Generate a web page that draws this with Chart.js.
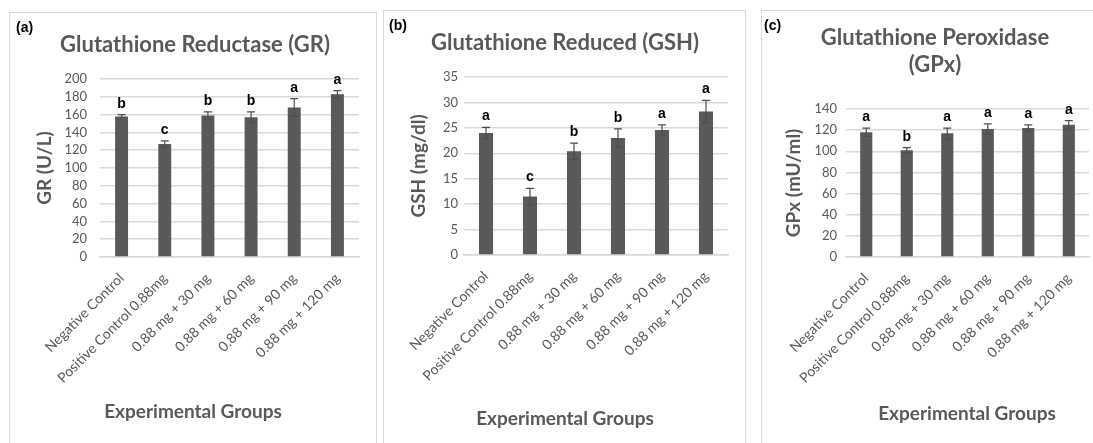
<!DOCTYPE html>
<html>
<head>
<meta charset="utf-8">
<script src="https://cdn.jsdelivr.net/npm/chart.js@4"></script>
<style>
  body { margin: 0; background: #fff; width: 1093px; height: 443px; overflow: hidden; position: relative; }
  .panel { position: absolute; border: 1px solid #d9d9d9; background: #fff; }
  .panel canvas { position: absolute; left: 0; top: 0; }
  .tag { position: absolute; font: bold 14px "Liberation Sans", Arial, sans-serif; color: #000; }
  .title { position: absolute; transform: translate(-50%, -50%); font: bold 22px Lato, sans-serif; color: #595959; text-align: center; white-space: nowrap; line-height: 27px; }
  .xtitle { position: absolute; transform: translate(-50%, -50%); font: bold 19px Lato, sans-serif; color: #595959; white-space: nowrap; }
</style>
</head>
<body>
<div class="panel" id="pa" style="left:9px;top:12px;width:366px;height:440px;"><canvas id="chartA"></canvas></div>
<div class="panel" id="pb" style="left:383px;top:10px;width:361px;height:442px;"><canvas id="chartB"></canvas></div>
<div class="panel" id="pc" style="left:761px;top:10px;width:340px;height:442px;"><canvas id="chartC"></canvas></div>

<div class="tag" style="left:16px;top:19px;">(a)</div>
<div class="tag" style="left:389px;top:17px;">(b)</div>
<div class="tag" style="left:764px;top:17px;">(c)</div>

<div class="title" style="left:195px;top:43px;">Glutathione Reductase (GR)</div>
<div class="title" style="left:565px;top:41px;">Glutathione Reduced (GSH)</div>
<div class="title" style="left:935px;top:50px;">Glutathione Peroxidase<br>(GPx)</div>

<div class="xtitle" style="left:193px;top:410px;">Experimental Groups</div>
<div class="xtitle" style="left:565px;top:417px;">Experimental Groups</div>
<div class="xtitle" style="left:967px;top:412px;">Experimental Groups</div>

<script>
const groups = ['Negative Control', 'Positive Control 0.88mg', '0.88 mg + 30 mg', '0.88 mg + 60 mg', '0.88 mg + 90 mg', '0.88 mg + 120 mg'];

const grValues = [158, 127, 159, 157, 168, 183];
const grErrors = [2, 3.5, 4, 6, 10, 4];
const grLetters = ['b', 'c', 'b', 'b', 'a', 'a'];
const grAxis = [0, 200, 20];

const gshValues = [24, 11.5, 20.4, 23, 24.6, 28.2];
const gshErrors = [1.1, 1.6, 1.6, 1.8, 1, 2.2];
const gshLetters = ['a', 'c', 'b', 'b', 'a', 'a'];
const gshAxis = [0, 35, 5];

const gpxValues = [118, 101, 117, 121, 122, 125];
const gpxErrors = [4, 2.5, 5, 5, 3, 4];
const gpxLetters = ['a', 'b', 'a', 'a', 'a', 'a'];
const gpxAxis = [0, 140, 20];

const grey = '#595959';

// error bars + significance letters drawn from the bar elements and y scale
const errorPlugin = {
    id: 'errorBars',
    afterDatasetsDraw(chart, args, opts) {
        const ctx = chart.ctx;
        const y = chart.scales.y;
        const meta = chart.getDatasetMeta(0);
        ctx.save();
        meta.data.forEach((bar, i) => {
            const v = opts.values[i];
            const e = opts.errors[i];
            const top = y.getPixelForValue(v + e);
            const bot = y.getPixelForValue(v - e);
            ctx.strokeStyle = '#4d4d4d';
            ctx.lineWidth = 1.2;
            ctx.beginPath();
            ctx.moveTo(bar.x, bot);
            ctx.lineTo(bar.x, top);
            ctx.moveTo(bar.x - 4, top);
            ctx.lineTo(bar.x + 4, top);
            ctx.moveTo(bar.x - 4, bot);
            ctx.lineTo(bar.x + 4, bot);
            ctx.stroke();

            ctx.fillStyle = '#000';
            ctx.font = 'bold 14px "Liberation Sans", Arial, sans-serif';
            ctx.textAlign = 'center';
            ctx.textBaseline = 'alphabetic';
            ctx.fillText(opts.letters[i], bar.x, top - 7);
        });
        ctx.restore();
    }
};

function makeChart(id, w, h, cfg) {
    const canvas = document.getElementById(id);
    canvas.width = w;
    canvas.height = h;
    return new Chart(canvas, {
        type: 'bar',
        data: {
            labels: groups,
            datasets: [{
                data: cfg.values,
                backgroundColor: grey,
                barPercentage: cfg.barPct,
                categoryPercentage: 1
            }]
        },
        options: {
            responsive: false,
            animation: false,
            layout: { padding: { left: 0, right: cfg.padRight, top: cfg.plotTop, bottom: 0 } },
            plugins: {
                legend: { display: false },
                tooltip: { enabled: false },
                errorBars: { values: cfg.values, errors: cfg.errors, letters: cfg.letters }
            },
            scales: {
                x: {
                    grid: { display: false, drawTicks: false },
                    border: { color: '#d9d9d9', width: 1.5 },
                    ticks: {
                        color: grey,
                        font: { family: 'Lato', size: 14 },
                        minRotation: 45,
                        maxRotation: 45,
                        autoSkip: false,
                        padding: 13
                    },
                    afterFit: (scale) => { scale.height = h - cfg.plotBottom; }
                },
                y: {
                    min: cfg.axis[0],
                    max: cfg.axis[1],
                    grid: { color: '#d9d9d9', lineWidth: 1.5, drawTicks: false },
                    border: { display: false },
                    ticks: {
                        stepSize: cfg.axis[2],
                        autoSkip: false,
                        color: grey,
                        font: { family: 'Lato', size: 13 },
                        padding: cfg.tickPad
                    },
                    title: {
                        display: true,
                        text: cfg.yTitle,
                        color: grey,
                        font: { family: 'Lato', size: 19, weight: 'bold' },
                        padding: { top: cfg.yTitlePad, bottom: 0 }
                    },
                    afterFit: (scale) => { scale.width = cfg.plotLeft; }
                }
            }
        },
        plugins: [errorPlugin]
    });
}

makeChart('chartA', 366, 430, {
    values: grValues, errors: grErrors, letters: grLetters, axis: grAxis,
    yTitle: 'GR (U/L)', barPct: 0.3,
    plotLeft: 90, padRight: 17, plotTop: 66, plotBottom: 244,
    tickPad: 13, yTitlePad: 23.5
});

makeChart('chartB', 361, 432, {
    values: gshValues, errors: gshErrors, letters: gshLetters, axis: gshAxis,
    yTitle: 'GSH (mg/dl)', barPct: 0.32,
    plotLeft: 80, padRight: 17, plotTop: 66, plotBottom: 244,
    tickPad: 6, yTitlePad: 23.5
});

makeChart('chartC', 332, 432, {
    values: gpxValues, errors: gpxErrors, letters: gpxLetters, axis: gpxAxis,
    yTitle: 'GPx (mU/ml)', barPct: 0.3,
    plotLeft: 84, padRight: 4, plotTop: 98, plotBottom: 246,
    tickPad: 9, yTitlePad: 20.5
});
</script>
</body>
</html>
